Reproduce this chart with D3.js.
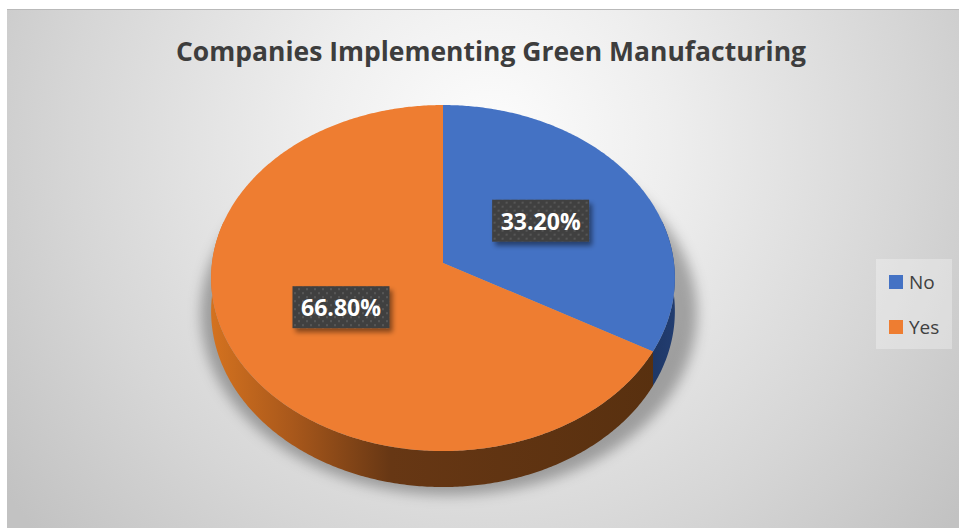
<!DOCTYPE html>
<html>
<head>
<meta charset="utf-8">
<script src="https://cdn.jsdelivr.net/npm/d3@7"></script>
<style>
  html, body { margin: 0; padding: 0; background: #ffffff; }
  svg { display: block; }
</style>
</head>
<body>
<svg id="chart" width="959" height="529"></svg>
<script>
// Survey shares
const categories = ["No", "Yes"];
const values = [33.2, 66.8];
const valueLabels = ["33.20%", "66.80%"];
const titleText = "Companies Implementing Green Manufacturing";

const W = 959, H = 529;
const svg = d3.select("#chart");
const defs = svg.append("defs");

const color = d3.scaleOrdinal(categories, ["#4472C4", "#EE7D31"]);
const sideFill = d3.scaleOrdinal(categories, ["url(#sideBlue)", "url(#sideOrange)"]);

// ---- background gradient
const bg = defs.append("radialGradient").attr("id", "bgGrad")
  .attr("gradientUnits", "userSpaceOnUse")
  .attr("cx", 490).attr("cy", 140).attr("r", 600);
[[0, "#fdfdfd"], [0.3, "#eeeeee"], [0.7, "#d6d6d6"], [1, "#c2c2c2"]]
  .forEach(([o, c]) => bg.append("stop").attr("offset", o).attr("stop-color", c));

// side shading of the disk
const gO = defs.append("linearGradient").attr("id", "sideOrange")
  .attr("gradientUnits", "userSpaceOnUse").attr("x1", 211).attr("x2", 660).attr("y1", 0).attr("y2", 0);
[[0, "#d4721f"], [0.18, "#a9581b"], [0.4, "#673714"], [1, "#58300f"]]
  .forEach(([o, c]) => gO.append("stop").attr("offset", o).attr("stop-color", c));
const gB = defs.append("linearGradient").attr("id", "sideBlue")
  .attr("gradientUnits", "userSpaceOnUse").attr("x1", 640).attr("x2", 675).attr("y1", 0).attr("y2", 0);
[[0, "#1c3461"], [1, "#223d70"]]
  .forEach(([o, c]) => gB.append("stop").attr("offset", o).attr("stop-color", c));

// blur for the disk shadow
defs.append("filter").attr("id", "pieShadow")
  .attr("x", "-20%").attr("y", "-20%").attr("width", "140%").attr("height", "140%")
  .append("feGaussianBlur").attr("stdDeviation", 6);

// drop shadow for the value labels
const ls = defs.append("filter").attr("id", "labelShadow")
  .attr("x", "-20%").attr("y", "-30%").attr("width", "150%").attr("height", "180%");
ls.append("feDropShadow").attr("dx", 3).attr("dy", 4).attr("stdDeviation", 2.5)
  .attr("flood-color", "#000").attr("flood-opacity", 0.45);

// dotted texture for the label boxes
const pat = defs.append("pattern").attr("id", "dots")
  .attr("patternUnits", "userSpaceOnUse").attr("width", 8).attr("height", 8);
pat.append("rect").attr("width", 8).attr("height", 8).attr("fill", "#404040");
pat.append("rect").attr("x", 1).attr("y", 1).attr("width", 2).attr("height", 2).attr("fill", "#575757");
pat.append("rect").attr("x", 5).attr("y", 5).attr("width", 2).attr("height", 2).attr("fill", "#575757");

// ---- chart area
svg.append("rect").attr("x", 7).attr("y", 9).attr("width", W - 7).attr("height", 519)
  .attr("fill", "url(#bgGrad)");
svg.append("line").attr("x1", 7).attr("x2", W).attr("y1", 9.5).attr("y2", 9.5)
  .attr("stroke", "#b9b9b9").attr("stroke-width", 1);

svg.append("text")
  .attr("x", 491).attr("y", 61)
  .attr("text-anchor", "middle")
  .attr("font-family", "'Open Sans', sans-serif")
  .attr("font-weight", 700).attr("font-size", 26)
  .attr("fill", "#3d3d3d")
  .attr("textLength", 630).attr("lengthAdjust", "spacingAndGlyphs")
  .text(titleText);

// ---- perspective projection of the tilted disk
const cx = 443, cy = 263;   // disk centre on screen
const A = 231, B = 171.7;   // horizontal / depth radii
const persp = 0.0868;       // foreshortening strength
const depth = 32.9;         // disk thickness

function proj(theta, r = 1, drop = 0) {
  const u = Math.sin(theta) * r, v = -Math.cos(theta) * r;
  const k = 1 / (1 - persp * v);
  return [cx + A * u * k, cy + B * v * k + drop * k];
}

function arcPoints(a0, a1, drop) {
  const n = Math.max(2, Math.ceil(Math.abs(a1 - a0) / 0.01));
  return d3.range(n + 1).map(i => proj(a0 + (a1 - a0) * i / n, 1, drop));
}

const pie = d3.pie().sort(null).value(d => d);
const arcs = pie(values);
const line = d3.line();

// shadow under the disk
svg.append("path")
  .attr("d", line(arcPoints(0, 2 * Math.PI, depth * 0.6)) + "Z")
  .attr("transform", `translate(${cx + 6},${cy + 14}) scale(1.07,1.04) translate(${-cx},${-cy})`)
  .attr("fill", "#000").attr("fill-opacity", 0.3)
  .attr("filter", "url(#pieShadow)");

// visible side walls (front half)
const visLo = Math.PI / 2 - 0.25, visHi = 3 * Math.PI / 2 + 0.25;
arcs.forEach((a, i) => {
  const s = Math.max(a.startAngle, visLo), e = Math.min(a.endAngle, visHi);
  if (e <= s) return;
  const pts = arcPoints(s, e, 0).concat(arcPoints(e, s, depth));
  svg.append("path").attr("d", line(pts) + "Z")
    .attr("fill", sideFill(categories[i]));
});

// top faces
arcs.forEach((a, i) => {
  const pts = [[cx, cy]].concat(arcPoints(a.startAngle, a.endAngle, 0));
  svg.append("path").attr("d", line(pts) + "Z")
    .attr("fill", color(categories[i]));
});

// value labels
const bw = 97, bh = 42;
arcs.forEach((a, i) => {
  const mid = (a.startAngle + a.endAngle) / 2;
  const [lx, ly] = proj(mid, 0.5, 0);
  const g = svg.append("g").attr("transform", `translate(${lx},${ly})`);
  g.append("rect").attr("x", -bw / 2).attr("y", -bh / 2).attr("width", bw).attr("height", bh)
    .attr("fill", "url(#dots)").attr("filter", "url(#labelShadow)");
  g.append("text").attr("x", 0).attr("y", 9)
    .attr("text-anchor", "middle")
    .attr("font-family", "'Open Sans', sans-serif")
    .attr("font-weight", 700).attr("font-size", 24)
    .attr("fill", "#ffffff")
    .attr("textLength", 80).attr("lengthAdjust", "spacingAndGlyphs")
    .text(valueLabels[i]);
});

// legend
const lg = svg.append("g").attr("transform", "translate(876,259)");
lg.append("rect").attr("width", 76).attr("height", 90)
  .attr("fill", "#ffffff").attr("fill-opacity", 0.3);
categories.forEach((c, i) => {
  const row = lg.append("g").attr("transform", `translate(0,${16 + i * 45})`);
  row.append("rect").attr("x", 13).attr("y", 0).attr("width", 14).attr("height", 14)
    .attr("fill", color(c));
  row.append("text").attr("x", 33).attr("y", 13.5)
    .attr("font-family", "'Open Sans', sans-serif")
    .attr("font-size", 19).attr("fill", "#404040")
    .text(c);
});
</script>
</body>
</html>
